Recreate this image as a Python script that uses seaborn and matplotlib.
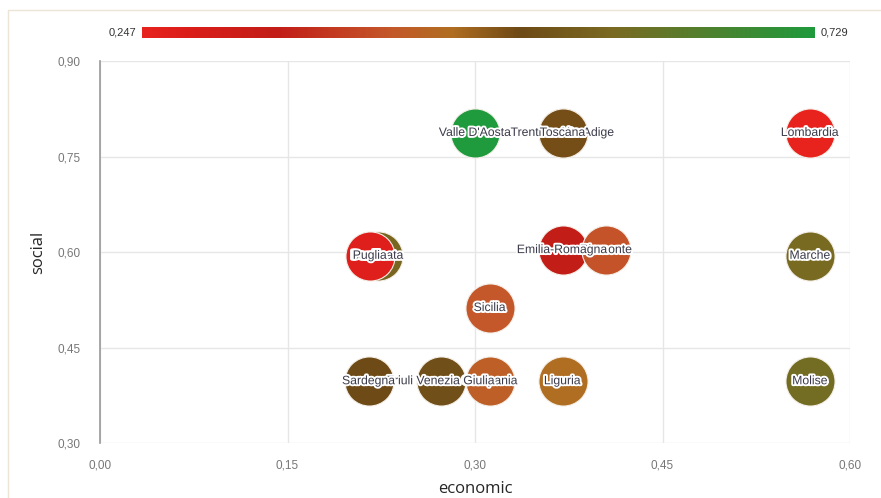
import matplotlib
matplotlib.use("Agg")
import matplotlib.pyplot as plt
import matplotlib.patheffects as pe
from matplotlib.colors import LinearSegmentedColormap, Normalize
from matplotlib.ticker import FuncFormatter
import numpy as np
import pandas as pd
import seaborn as sns

# bubble data (drawing order = list order)
regions = ["Valle D'Aosta", "Trentino-Alto Adige", "Toscana", "Lombardia",
           "Emilia-Romagna", "Piemonte", "Basilicata", "Puglia", "Sicilia",
           "Marche", "Sardegna", "Friuli Venezia Giulia", "Campania",
           "Liguria", "Molise"]
economic = [0.300, 0.370, 0.370, 0.568, 0.370, 0.405, 0.222, 0.216, 0.312,
            0.568, 0.215, 0.273, 0.312, 0.370, 0.568]
social = [0.787, 0.787, 0.787, 0.787, 0.603, 0.603, 0.594, 0.594, 0.512,
          0.594, 0.397, 0.397, 0.397, 0.397, 0.397]
index_value = [0.729, 0.500, 0.512, 0.247, 0.343, 0.420, 0.575, 0.271, 0.425,
               0.585, 0.517, 0.527, 0.440, 0.469, 0.594]

# label stacking order (later ones on top)
label_order = ["Campania", "Friuli Venezia Giulia", "Sardegna", "Liguria",
               "Molise", "Trentino-Alto Adige", "Valle D'Aosta", "Toscana",
               "Lombardia", "Piemonte", "Emilia-Romagna", "Basilicata",
               "Puglia", "Sicilia", "Marche"]

vmin, vmax = 0.247, 0.729

cmap = LinearSegmentedColormap.from_list("redgreen", [
    (0.00, "#e8231e"),
    (0.06, "#dc1e1a"),
    (0.20, "#c21d18"),
    (0.37, "#c4582a"),
    (0.46, "#b06e22"),
    (0.56, "#6e4a16"),
    (0.70, "#7a6a22"),
    (1.00, "#1f9a3c"),
])

df = pd.DataFrame({"region": regions, "economic": economic,
                   "social": social, "value": index_value})

sns.set_style("white")
fig = plt.figure(figsize=(8.81, 4.98), dpi=100)

# light frame around the chart
fig.add_artist(plt.Rectangle((8 / 881, -0.05), 1.0, (488 / 498) + 0.05,
                             transform=fig.transFigure, fill=False,
                             edgecolor="#ece4d6", linewidth=1.0))

ax = fig.add_axes([100 / 881, 1 - 443 / 498, 750 / 881, 382 / 498])

norm = Normalize(vmin, vmax)
for i, row in df.iterrows():
    sns.scatterplot(x=[row.economic], y=[row.social], color=cmap(norm(row.value)),
                    s=1250, edgecolor="#f4efe8", linewidth=0.8, ax=ax,
                    legend=False, zorder=3 + i * 0.01)

halo = [pe.withStroke(linewidth=2.8, foreground="white")]
for j, name in enumerate(label_order):
    k = regions.index(name)
    ax.text(economic[k], social[k], name, ha="center", va="center",
            fontsize=8.8, color="#3a3a4a", family="Liberation Sans",
            path_effects=halo, zorder=10 + j * 0.01)

ax.set_xlim(0, 0.6)
ax.set_ylim(0.3, 0.9)
ax.set_xticks(np.arange(0, 0.61, 0.15))
ax.set_yticks(np.arange(0.3, 0.91, 0.15))
fmt = FuncFormatter(lambda v, p: f"{v:.2f}".replace(".", ","))
ax.xaxis.set_major_formatter(fmt)
ax.yaxis.set_major_formatter(fmt)
ax.grid(True, color="#e6e6e6", linewidth=1.0)
ax.set_axisbelow(True)
for side in ["top", "right", "bottom"]:
    ax.spines[side].set_visible(False)
ax.spines["left"].set_color("#999999")
ax.spines["left"].set_linewidth(1.2)
ax.spines["left"].set_zorder(20)
ax.tick_params(axis="both", length=0, labelsize=8.5, labelcolor="#777777")
for lab in ax.get_xticklabels() + ax.get_yticklabels():
    lab.set_family("Liberation Sans")
ax.tick_params(axis="x", pad=12)
ax.tick_params(axis="y", pad=14)
ax.set_xlabel("economic", family="Open Sans", fontsize=12, labelpad=7)
ax.set_ylabel("social", family="Open Sans", fontsize=12, labelpad=8)

# colour legend bar
cax = fig.add_axes([142 / 881, 1 - 38 / 498, 673 / 881, 11 / 498])
gradient = np.linspace(vmin, vmax, 256).reshape(1, -1)
cax.imshow(gradient, aspect="auto", cmap=cmap, norm=norm,
           extent=[vmin, vmax, 0, 1])
cax.set_xticks([])
cax.set_yticks([])
for s in cax.spines.values():
    s.set_visible(False)
fig.text(136 / 881, 1 - 32.5 / 498, f"{vmin:.3f}".replace(".", ","),
         ha="right", va="center", fontsize=8, color="#333333",
         family="Liberation Sans")
fig.text(821 / 881, 1 - 32.5 / 498, f"{vmax:.3f}".replace(".", ","),
         ha="left", va="center", fontsize=8, color="#333333",
         family="Liberation Sans")

fig.savefig("out.png", dpi=100)
